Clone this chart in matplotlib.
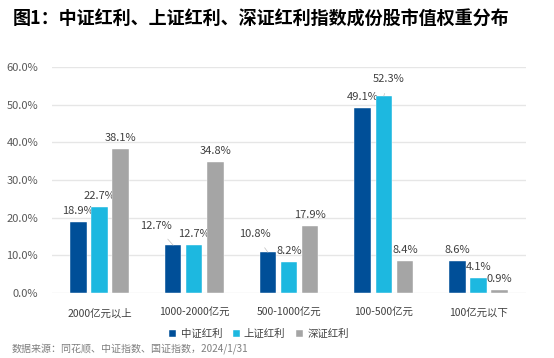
import matplotlib
matplotlib.use("Agg")
import matplotlib.pyplot as plt
import numpy as np

plt.rcParams['font.family'] = ['Noto Sans CJK SC', 'DejaVu Sans']

categories = ["2000亿元以上", "1000-2000亿元", "500-1000亿元", "100-500亿元", "100亿元以下"]
series_names = ["中证红利", "上证红利", "深证红利"]
zz_hl = [18.9, 12.7, 10.8, 49.1, 8.6]
sz_hl = [22.7, 12.7, 8.2, 52.3, 4.1]
szz_hl = [38.1, 34.8, 17.9, 8.4, 0.9]
yticks = [0, 10, 20, 30, 40, 50, 60]
title = "图1：中证红利、上证红利、深证红利指数成份股市值权重分布"
source = "数据来源：同花顺、中证指数、国证指数，2024/1/31"

colors = ["#004F98", "#1DB8E0", "#A5A5A5"]
# label offsets in pixels (dx, dy) for specific (series, category)
special_offsets = {(0, 1): (-17, 19), (0, 2): (-13, 18), (1, 3): (5, 17)}

fig = plt.figure(figsize=(5.54, 3.58), dpi=100)
ax = fig.add_axes([52/554, 1-293/358, 474/554, 226/358])

x = np.arange(len(categories))
width = 0.175
step = 0.222
data = [zz_hl, sz_hl, szz_hl]
for i, vals in enumerate(data):
    xs = x + (i - 1) * step
    ax.bar(xs, vals, width=width, color=colors[i], label=series_names[i],
           edgecolor='white', linewidth=0.3, zorder=3)
    for j, v in enumerate(vals):
        dx, dy = special_offsets.get((i, j), (0, 11))
        if (i, j) in special_offsets:
            ax.annotate(f"{v:.1f}%", xy=(xs[j], v), xytext=(dx, dy),
                        textcoords='offset pixels', ha='center', va='center',
                        fontsize=8, color='#404040',
                        arrowprops=dict(arrowstyle='-', color='#BFBFBF', lw=0.5,
                                        shrinkA=5, shrinkB=0))
        else:
            ax.annotate(f"{v:.1f}%", xy=(xs[j], v), xytext=(dx, dy),
                        textcoords='offset pixels', ha='center', va='center',
                        fontsize=8, color='#404040')

ax.set_xlim(-0.5, len(categories) - 0.5)
ax.set_ylim(0, 60)
ax.set_yticks(yticks)
ax.set_yticklabels([f"{t:.1f}%" for t in yticks], fontsize=8, color='#595959')
ax.set_xticks(x)
ax.set_xticklabels(categories, fontsize=7.5, color='#404040')
ax.tick_params(axis='x', length=0, pad=11)
ax.tick_params(axis='y', length=0, pad=10)
for s in ax.spines.values():
    s.set_visible(False)
ax.grid(axis='y', color='#E6E6E6', lw=1, zorder=0)
ax.set_axisbelow(True)

fig.legend(loc='center', bbox_to_anchor=(259/554, 1-334/358), ncol=3, frameon=False,
           fontsize=7.5, handlelength=0.7, handleheight=0.7, handletextpad=0.4,
           columnspacing=1.0, labelcolor='#404040')

fig.text(13/554, 1-19/358, title, fontsize=13, fontweight='bold', color='#000000',
         ha='left', va='center')
fig.text(12/554, 1-349/358, source, fontsize=7.2, color='#7F7F7F', ha='left', va='center')

fig.savefig("out.png", dpi=100)
